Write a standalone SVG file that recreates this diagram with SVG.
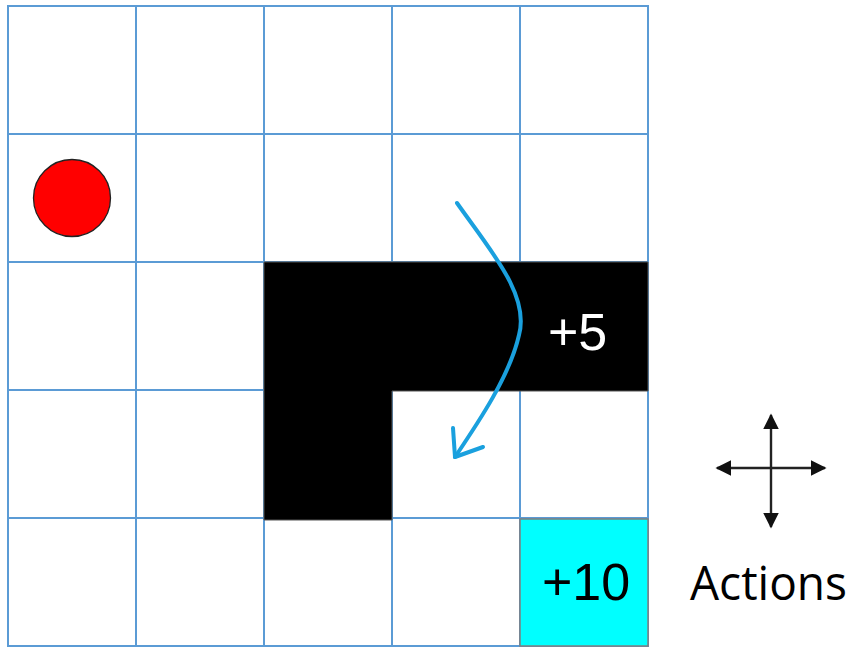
<svg xmlns="http://www.w3.org/2000/svg" width="853" height="648" viewBox="0 0 853 648">
<defs>
<style>
.grid{stroke:#5B9BD5;stroke-width:2;fill:none}
.lbl{font-family:"Liberation Sans",Arial,sans-serif;font-size:52px}
.act{stroke:#222;stroke-width:2.4;fill:none}
</style>
<marker id="tri" viewBox="0 0 10 10" refX="9" refY="5" markerWidth="6.5" markerHeight="6.5" orient="auto" markerUnits="strokeWidth"><path d="M0,0 L10,5 L0,10 Z" fill="#111"/></marker>
</defs>
<rect x="0" y="0" width="853" height="648" fill="#fff"/>
<g id="grid">
<rect class="grid" x="8" y="6" width="640" height="640"/>
<path class="grid" d="M136,6V646M264,6V646M392,6V646M520,6V646M8,134H648M8,262H648M8,390H648M8,518H648"/>
</g>
<g id="wall">
<path d="M264,262 H648 V391 H392 V520 H264 Z" fill="#000" stroke="#555" stroke-width="1"/>
<text class="lbl" x="548" y="350" fill="#fff">+5</text>
</g>
<g id="goal">
<rect x="520" y="519" width="128" height="127" fill="#00FFFF" stroke="#7F7F7F" stroke-width="1.5"/>
<text class="lbl" x="542" y="600" fill="#000">+10</text>
</g>
<g id="agent">
<circle cx="72" cy="198" r="38.5" fill="#FF0000" stroke="#222" stroke-width="1.3"/>
</g>
<g id="connectors">
<path d="M457,203 C490,250 530,295 519,335 C510,375 480,420 455,457" fill="none" stroke="#1AA0DE" stroke-width="4" stroke-linecap="round"/>
<path d="M453,428 L455,457 L483,447" fill="none" stroke="#1AA0DE" stroke-width="4" stroke-linecap="round" stroke-linejoin="round"/>
</g>
<g id="actions">
<line class="act" x1="771" y1="468" x2="771" y2="415" marker-end="url(#tri)"/>
<line class="act" x1="771" y1="468" x2="771" y2="527" marker-end="url(#tri)"/>
<line class="act" x1="771" y1="468" x2="717" y2="468" marker-end="url(#tri)"/>
<line class="act" x1="771" y1="468" x2="825" y2="468" marker-end="url(#tri)"/>
<text x="690" y="600" font-family="'Open Sans','DejaVu Sans',sans-serif" font-size="47" textLength="157" lengthAdjust="spacingAndGlyphs" fill="#000">Actions</text>
</g>
</svg>
